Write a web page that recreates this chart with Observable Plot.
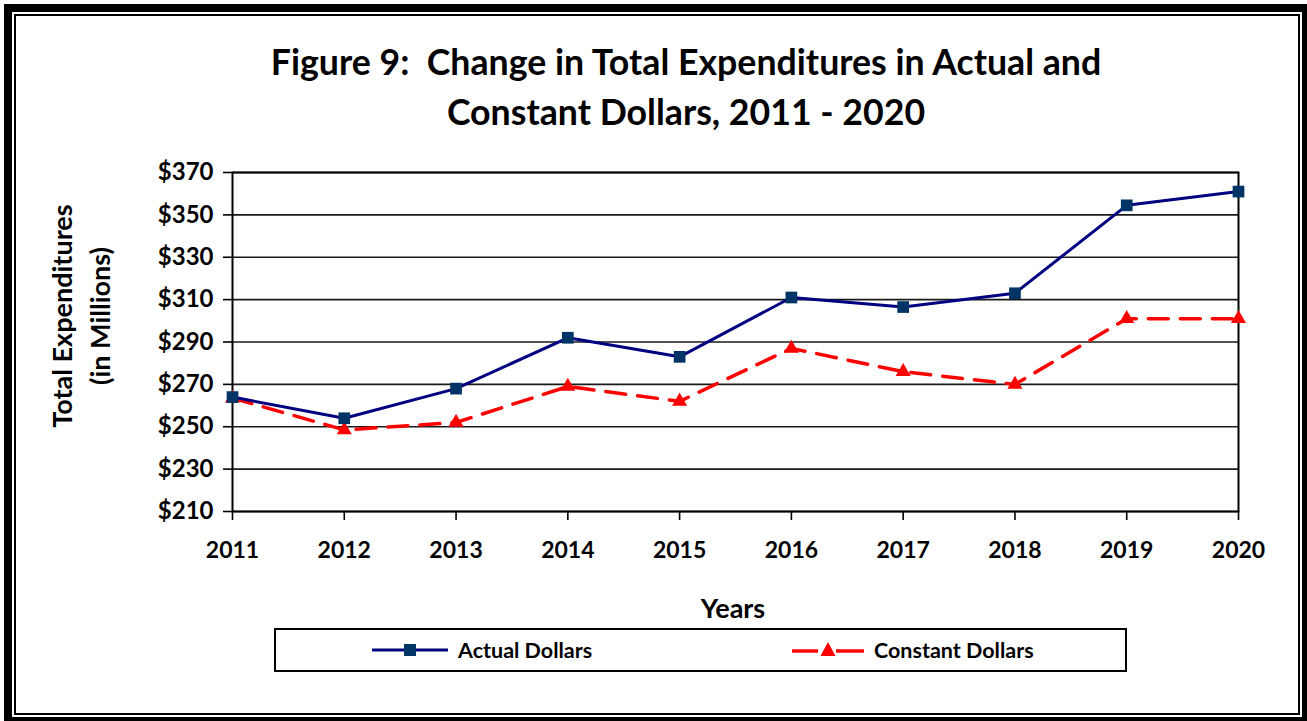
<!DOCTYPE html>
<html>
<head>
<meta charset="utf-8">
<script src="https://cdn.jsdelivr.net/npm/d3@7"></script>
<script src="https://cdn.jsdelivr.net/npm/@observablehq/plot@0.6"></script>
<style>
  html, body { margin: 0; padding: 0; width: 1307px; height: 721px; overflow: hidden; background: #fff; font-family: Lato, "Open Sans", sans-serif; }
  .abs { position: absolute; }
  #outer { left: 4px; top: 4px; width: 1306px; height: 721px; border: 8px solid #000; box-sizing: border-box; }
  #inner { left: 14px; top: 14px; width: 1286px; height: 701px; border: 2px solid #000; box-sizing: border-box; }
  #title { left: 186px; top: 37px; width: 1000px; text-align: center; font-weight: 700; font-size: 35.7px; line-height: 50px; color: #000; }
  #ylab { left: 81px; top: 316px; width: 400px; transform: translate(-50%, -50%) rotate(-90deg); text-align: center; font-weight: 700; font-size: 27px; line-height: 38px; }
  #xlab { left: 733px; top: 607px; transform: translate(-50%, -50%); font-weight: 700; font-size: 27px; }
  #legend { left: 274px; top: 628px; width: 853px; height: 44px; border: 2px solid #000; box-sizing: border-box; }
  .item { position: absolute; top: 0; height: 40px; display: flex; align-items: center; font-weight: 700; font-size: 21.5px; }
  #chart { left: 16px; top: 150px; }
</style>
</head>
<body>
<div id="outer" class="abs"></div>
<div id="inner" class="abs"></div>
<div id="title" class="abs">Figure 9:&nbsp; Change in Total Expenditures in Actual and<br>Constant Dollars, 2011 - 2020</div>
<div id="ylab" class="abs">Total Expenditures<br>(in Millions)</div>
<div id="xlab" class="abs">Years</div>
<div id="chart" class="abs"></div>
<div id="legend" class="abs">
  <div class="item" style="left:94px">
    <svg width="80" height="20" style="margin-right:8px"><line x1="2" y1="10" x2="78" y2="10" stroke="#000080" stroke-width="3"/><rect x="34" y="4" width="12" height="12" fill="#003366"/></svg>Actual Dollars
  </div>
  <div class="item" style="left:514px">
    <svg width="76" height="20" style="margin-right:8px"><line x1="2" y1="11" x2="28" y2="11" stroke="#ff0000" stroke-width="3.5"/><line x1="46" y1="11" x2="74" y2="11" stroke="#ff0000" stroke-width="3.5"/><path d="M38,2 L45.5,16 L30.5,16 Z" fill="#ff0000"/></svg>Constant Dollars
  </div>
</div>
<script>
const years = [2011, 2012, 2013, 2014, 2015, 2016, 2017, 2018, 2019, 2020];
const actualDollars = [264, 254, 268, 292, 283, 311, 306.5, 313, 354.5, 361];
const constantDollars = [263.5, 248.5, 252, 269, 262, 287, 276, 270, 301, 301];
const yTicks = [210, 230, 250, 270, 290, 310, 330, 350, 370];

const actual = years.map((year, i) => ({year, value: actualDollars[i]}));
const constant = years.map((year, i) => ({year, value: constantDollars[i]}));

const W = 1270, H = 480;
const chart = Plot.plot({
  width: W,
  height: H,
  marginLeft: 216,
  marginRight: 48,
  marginTop: 22,
  marginBottom: 119,
  style: { fontFamily: "Lato, 'Open Sans', sans-serif", background: "transparent", overflow: "visible" },
  x: { domain: [2011, 2020] },
  y: { domain: [210, 370] },
  marks: [
    Plot.gridY(yTicks, { stroke: "#1a1a1a", strokeOpacity: 1, strokeWidth: 1.6 }),
    Plot.frame({ stroke: "#000", strokeWidth: 2 }),
    Plot.axisY(yTicks, { tickFormat: d => "$" + d, tickSize: 9, tickPadding: 10, fontSize: 24, fontWeight: "bold", label: null, stroke: "#000", strokeWidth: 1.6, fill: "#000" }),
    Plot.axisX(years, { tickFormat: d => String(d), tickSize: 9, tickPadding: 21, fontSize: 23, fontWeight: "bold", label: null, stroke: "#000", strokeWidth: 1.6, fill: "#000" }),
    Plot.line(constant, { x: "year", y: "value", stroke: "#ff0000", strokeWidth: 3.5, strokeDasharray: "20,12" }),
    Plot.dot(constant, { x: "year", y: "value", symbol: "triangle", r: 5.6, fill: "#ff0000", stroke: "none" }),
    Plot.line(actual, { x: "year", y: "value", stroke: "#000080", strokeWidth: 3 }),
    Plot.dot(actual, { x: "year", y: "value", symbol: "square", r: 6.6, fill: "#003366", stroke: "none" })
  ]
});
document.getElementById("chart").appendChild(chart);
</script>
</body>
</html>
